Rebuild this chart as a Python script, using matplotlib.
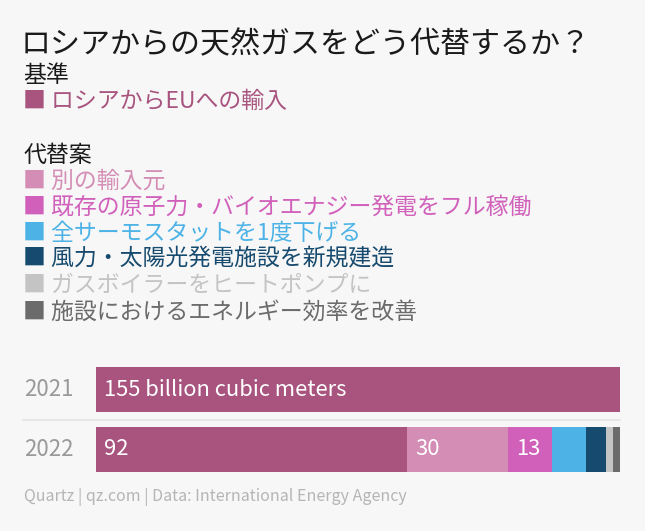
import matplotlib
matplotlib.use("Agg")
import matplotlib.pyplot as plt
from matplotlib.transforms import blended_transform_factory

plt.rcParams['font.family'] = ['Noto Sans CJK JP', 'DejaVu Sans']

# ---- data ----
title = "ロシアからの天然ガスをどう代替するか？"
baseline_header = "基準"
baseline_label = "ロシアからEUへの輸入"
alt_header = "代替案"
alt_labels = ["別の輸入元",
              "既存の原子力・バイオエナジー発電をフル稼働",
              "全サーモスタットを1度下げる",
              "風力・太陽光発電施設を新規建造",
              "ガスボイラーをヒートポンプに",
              "施設におけるエネルギー効率を改善"]
years = ["2021", "2022"]
baseline_values = [155, 92]
alt_values_2022 = [30, 13, 10, 6, 2, 2]
total_label = "155 billion cubic meters"
footer = "Quartz | qz.com | Data: International Energy Agency"

base_color = "#a8547f"
alt_colors = ["#d48db5", "#d160bb", "#4db3e6", "#164a6e", "#c4c4c4", "#6b6b6b"]
bg = "#f7f7f7"

W, H = 645, 531
fig = plt.figure(figsize=(W / 100, H / 100), dpi=100, facecolor=bg)

def fx(px):
    return px / W

def fy(py):
    return 1 - py / H

# ---- headings & legend ----
fig.text(fx(21), fy(45), title, fontsize=21.6, color="#1a1a1a", va="center", ha="left")
fig.text(fx(23), fy(75), baseline_header, fontsize=16.5, color="#1a1a1a", va="center", ha="left")
fig.text(fx(23), fy(101), "■ " + baseline_label, fontsize=16.5, color=base_color, va="center", ha="left")
fig.text(fx(23), fy(155), alt_header, fontsize=16.5, color="#1a1a1a", va="center", ha="left")
row_y = [181, 207, 233, 259, 285, 312]
for lab, col, yy in zip(alt_labels, alt_colors, row_y):
    fig.text(fx(23), fy(yy), "■ " + lab, fontsize=16.5, color=col, va="center", ha="left")

# ---- bars ----
ax = fig.add_axes([fx(96), fy(479), (620 - 96) / W, 119 / H])
ax.set_facecolor(bg)
ax.set_xlim(0, 155)
ax.set_ylim(1.5, -0.5)
ax.axis("off")

bh = 45 / 59.5
ax.barh([0, 1], baseline_values, height=bh, color=base_color, edgecolor="none")
left = baseline_values[1]
segs = []
for v, c in zip(alt_values_2022, alt_colors):
    ax.barh(1, v, left=left, height=bh, color=c, edgecolor="none")
    segs.append((left, v))
    left += v

# labels inside bars
off = 8 * 155 / 524
ax.text(off, 0, total_label, color="white", fontsize=15.8, va="center", ha="left")
ax.text(off, 1, str(baseline_values[1]), color="white", fontsize=15.8, va="center", ha="left")
for (l, v) in segs:
    if v >= 13:
        ax.text(l + off, 1, str(v), color="white", fontsize=15.8, va="center", ha="left")

# year labels
tr = blended_transform_factory(fig.transFigure, ax.transData)
for i, yr in enumerate(years):
    ax.text(fx(24), i, yr, transform=tr, color="#9a9a9a", fontsize=16, va="center", ha="left")

# separator
ax.plot([fx(23), fx(620)], [0.5, 0.5], transform=tr, color="#e4e4e4", lw=1.2, clip_on=False)

# footer
fig.text(fx(24), fy(497), footer, fontsize=11.5, color="#b5b5b5", va="center", ha="left")

fig.savefig("out.png", dpi=100, facecolor=bg)
